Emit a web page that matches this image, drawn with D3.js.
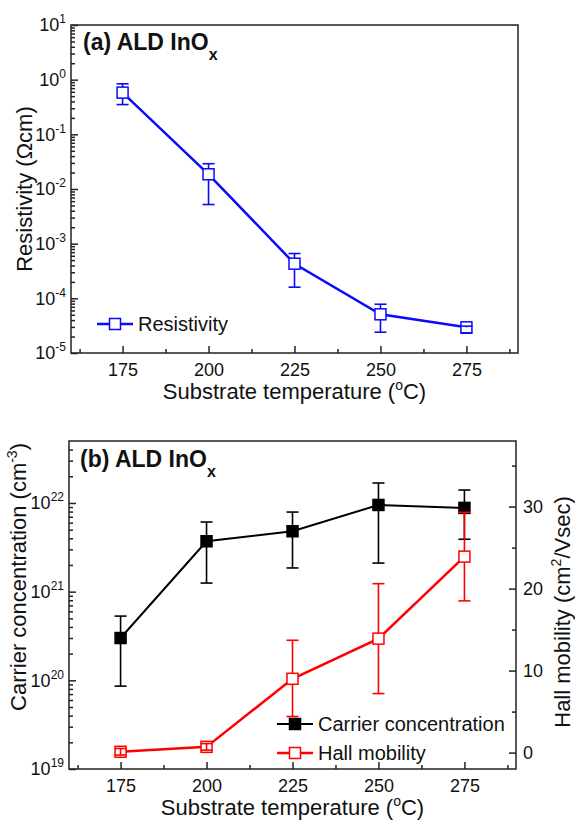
<!DOCTYPE html>
<html>
<head>
<meta charset="utf-8">
<script src="https://cdn.jsdelivr.net/npm/d3@7"></script>
<style>
body{margin:0;background:#fff;}
text{font-family:"Liberation Sans",Arial,sans-serif;fill:#111;}
</style>
</head>
<body>
<div id="chart"></div>
<script>
var w = 575;
var h = 822;

// data
var temps = [175, 200, 225, 250, 275];
var resistivity = [0.58, 0.0186, 4.3e-4, 5.1e-5, 2.95e-5];
var resHi = [0.84, 0.029, 6.6e-4, 7.8e-5, 3.1e-5];
var resLo = [0.35, 0.0052, 1.6e-4, 2.4e-5, 2.3e-5];
var carrier = [3.0e20, 3.7e21, 4.8e21, 9.5e21, 8.8e21];
var carrierHi = [5.3e20, 6.1e21, 7.9e21, 1.68e22, 1.4e22];
var carrierLo = [8.6e19, 1.25e21, 1.85e21, 2.1e21, 3.9e21];
var mobility = [0.1, 0.7, 9.0, 13.9, 23.9];
var mobHi = [0.5, 1.1, 13.7, 20.6, 29.3];
var mobLo = [-0.3, 0.3, 4.4, 7.2, 18.5];

var xTicks = [175, 200, 225, 250, 275];
var xMinor = [162.5, 187.5, 212.5, 237.5, 262.5, 287.5];
var resExp = [-5, -4, -3, -2, -1, 0, 1];
var carExp = [19, 20, 21, 22];
var mobTicks = [0, 10, 20, 30];
var mobMinor = [5, 15, 25, 35];

var svg = d3.select("#chart").append("svg")
	.attr("width", w)
	.attr("height", h);

// panel (a)
var xTop = d3.scaleLinear().domain([160, 290]).range([71, 518]);
var yRes = d3.scaleLog().domain([1e-5, 10]).range([353, 25]);
// panel (b)
var xBot = d3.scaleLinear().domain([160, 290]).range([69, 516]);
var yCar = d3.scaleLog().domain([1e19, 5e22]).range([769, 441]);
var yMob = d3.scaleLinear().domain([-2, 38]).range([769, 441]);

function logMinor(scale){
	var dom = scale.domain();
	var lo = Math.floor(Math.log10(dom[0])), hi = Math.ceil(Math.log10(dom[1]));
	var out = [];
	for(var e = lo; e < hi; e++){
		for(var m = 2; m < 10; m++){
			var v = m * Math.pow(10, e);
			if(v > dom[0] && v < dom[1]) out.push(v);
		}
	}
	return out;
}

function styleAxis(g){
	g.select(".domain").remove();
	g.selectAll("line").attr("stroke", "#222").attr("stroke-width", 1.5);
	g.selectAll("text").attr("font-size", 18).attr("font-family", "Liberation Sans, Arial, sans-serif").attr("fill", "#111");
}

function frame(xs, ys){
	svg.append("rect")
		.attr("x", xs.range()[0]).attr("y", ys.range()[1])
		.attr("width", xs.range()[1] - xs.range()[0])
		.attr("height", ys.range()[0] - ys.range()[1])
		.attr("fill", "none").attr("stroke", "#222").attr("stroke-width", 1.5);
}

function xAxis(xs, ys){
	var y0 = ys.range()[0];
	svg.append("g").attr("transform", "translate(0," + y0 + ")")
		.call(d3.axisBottom(xs).tickValues(xTicks).tickSize(-7).tickPadding(10).tickFormat(d3.format("d")))
		.call(styleAxis);
	svg.append("g").attr("transform", "translate(0," + y0 + ")")
		.call(d3.axisBottom(xs).tickValues(xMinor).tickSize(-4).tickFormat(""))
		.call(styleAxis);
	var t = svg.append("text")
		.attr("x", (xs.range()[0] + xs.range()[1]) / 2)
		.attr("y", y0 + 46)
		.attr("text-anchor", "middle")
		.attr("font-size", 22);
	t.append("tspan").text("Substrate temperature (");
	t.append("tspan").attr("font-size", 14).attr("dy", -9).text("o");
	t.append("tspan").attr("dy", 9).text("C)");
}

function logAxis(xs, ys, exps){
	var x0 = xs.range()[0];
	svg.append("g").attr("transform", "translate(" + x0 + ",0)")
		.call(d3.axisLeft(ys).tickValues(exps.map(function(e){return Math.pow(10, e);})).tickSize(-7).tickFormat(""))
		.call(styleAxis);
	svg.append("g").attr("transform", "translate(" + x0 + ",0)")
		.call(d3.axisLeft(ys).tickValues(logMinor(ys)).tickSize(-4).tickFormat(""))
		.call(styleAxis);
	var lab = svg.append("g").selectAll("text")
		.data(exps)
		.enter().append("text")
			.attr("x", x0 - 5)
			.attr("y", function(d){return ys(Math.pow(10, d));})
			.attr("dy", "0.35em")
			.attr("text-anchor", "end")
			.attr("font-size", 18);
	lab.append("tspan").text("10");
	lab.append("tspan").attr("font-size", 12).attr("dy", -8).text(function(d){return d;});
}

function title(x, y, txt){
	var t = svg.append("text").attr("x", x).attr("y", y)
		.attr("font-size", 23).attr("font-weight", "bold");
	t.append("tspan").text(txt);
	t.append("tspan").attr("font-size", 16).attr("dy", 10).text("x");
}

function series(xs, ys, vals, hi, lo, color, lw, filled){
	var size = 11;
	var half = size / 2;
	var g = svg.append("g");
	var pts = temps.map(function(t, i){
		return {x: xs(t), y: ys(vals[i]), yt: ys(hi[i]), yb: ys(lo[i])};
	});
	g.append("path")
		.datum(pts)
		.attr("fill", "none")
		.attr("stroke", color)
		.attr("stroke-width", lw)
		.attr("d", d3.line().x(function(d){return d.x;}).y(function(d){return d.y;}));
	g.selectAll("rect.mk")
		.data(pts)
		.enter().append("rect")
			.attr("class", "mk")
			.attr("x", function(d){return d.x - half;})
			.attr("y", function(d){return d.y - half;})
			.attr("width", size).attr("height", size)
			.attr("fill", filled ? color : "#fff")
			.attr("stroke", color)
			.attr("stroke-width", 1.5);
	var eb = g.selectAll("g.eb").data(pts).enter().append("g").attr("class", "eb")
		.attr("stroke", color).attr("stroke-width", 1.6);
	eb.append("line")
		.attr("x1", function(d){return d.x;}).attr("x2", function(d){return d.x;})
		.attr("y1", function(d){return d.yt;})
		.attr("y2", function(d){return d.yt < d.y - half ? d.y - half : d.y;});
	eb.append("line")
		.attr("x1", function(d){return d.x;}).attr("x2", function(d){return d.x;})
		.attr("y1", function(d){return d.yb > d.y + half ? d.y + half : d.y;})
		.attr("y2", function(d){return d.yb;});
	eb.append("line")
		.attr("x1", function(d){return d.x - 6;}).attr("x2", function(d){return d.x + 6;})
		.attr("y1", function(d){return d.yt;}).attr("y2", function(d){return d.yt;});
	eb.append("line")
		.attr("x1", function(d){return d.x - 6;}).attr("x2", function(d){return d.x + 6;})
		.attr("y1", function(d){return d.yb;}).attr("y2", function(d){return d.yb;});
}

function legendItem(x, y, color, lw, filled, label){
	svg.append("line").attr("x1", x).attr("x2", x + 36).attr("y1", y).attr("y2", y)
		.attr("stroke", color).attr("stroke-width", lw);
	svg.append("rect").attr("x", x + 18 - 5.5).attr("y", y - 5.5).attr("width", 11).attr("height", 11)
		.attr("fill", filled ? color : "#fff").attr("stroke", color).attr("stroke-width", 1.5);
	svg.append("text").attr("x", x + 41).attr("y", y + 7).attr("font-size", 20).text(label);
}

// ---- panel (a)
frame(xTop, yRes);
xAxis(xTop, yRes);
logAxis(xTop, yRes, resExp);
series(xTop, yRes, resistivity, resHi, resLo, "#0a0aff", 2.5, false);
title(83, 50, "(a) ALD InO");
legendItem(97, 324, "#0a0aff", 2.5, false, "Resistivity");
var yt1 = svg.append("text").attr("transform", "translate(32,189) rotate(-90)")
	.attr("text-anchor", "middle").attr("font-size", 22);
yt1.text("Resistivity (\u03A9cm)");

// ---- panel (b)
frame(xBot, yCar);
xAxis(xBot, yCar);
logAxis(xBot, yCar, carExp);
svg.append("g").attr("transform", "translate(516,0)")
	.call(d3.axisRight(yMob).tickValues(mobTicks).tickSize(-7).tickPadding(7))
	.call(styleAxis);
svg.append("g").attr("transform", "translate(516,0)")
	.call(d3.axisRight(yMob).tickValues(mobMinor).tickSize(-4).tickFormat(""))
	.call(styleAxis);
series(xBot, yCar, carrier, carrierHi, carrierLo, "#000", 2, true);
series(xBot, yMob, mobility, mobHi, mobLo, "#ff0000", 2.5, false);
title(80, 467, "(b) ALD InO");
legendItem(277, 724, "#000", 2, true, "Carrier concentration");
legendItem(277, 753, "#ff0000", 2.5, false, "Hall mobility");

var yt2 = svg.append("text").attr("transform", "translate(26,577) rotate(-90)")
	.attr("text-anchor", "middle").attr("font-size", 22);
yt2.append("tspan").text("Carrier concentration (cm");
yt2.append("tspan").attr("font-size", 14).attr("dy", -9).text("-3");
yt2.append("tspan").attr("dy", 9).text(")");

var yt3 = svg.append("text").attr("transform", "translate(570,612) rotate(-90)")
	.attr("text-anchor", "middle").attr("font-size", 22);
yt3.append("tspan").text("Hall mobility (cm");
yt3.append("tspan").attr("font-size", 14).attr("dy", -9).text("2");
yt3.append("tspan").attr("dy", 9).text("/Vsec)");
</script>
</body>
</html>
